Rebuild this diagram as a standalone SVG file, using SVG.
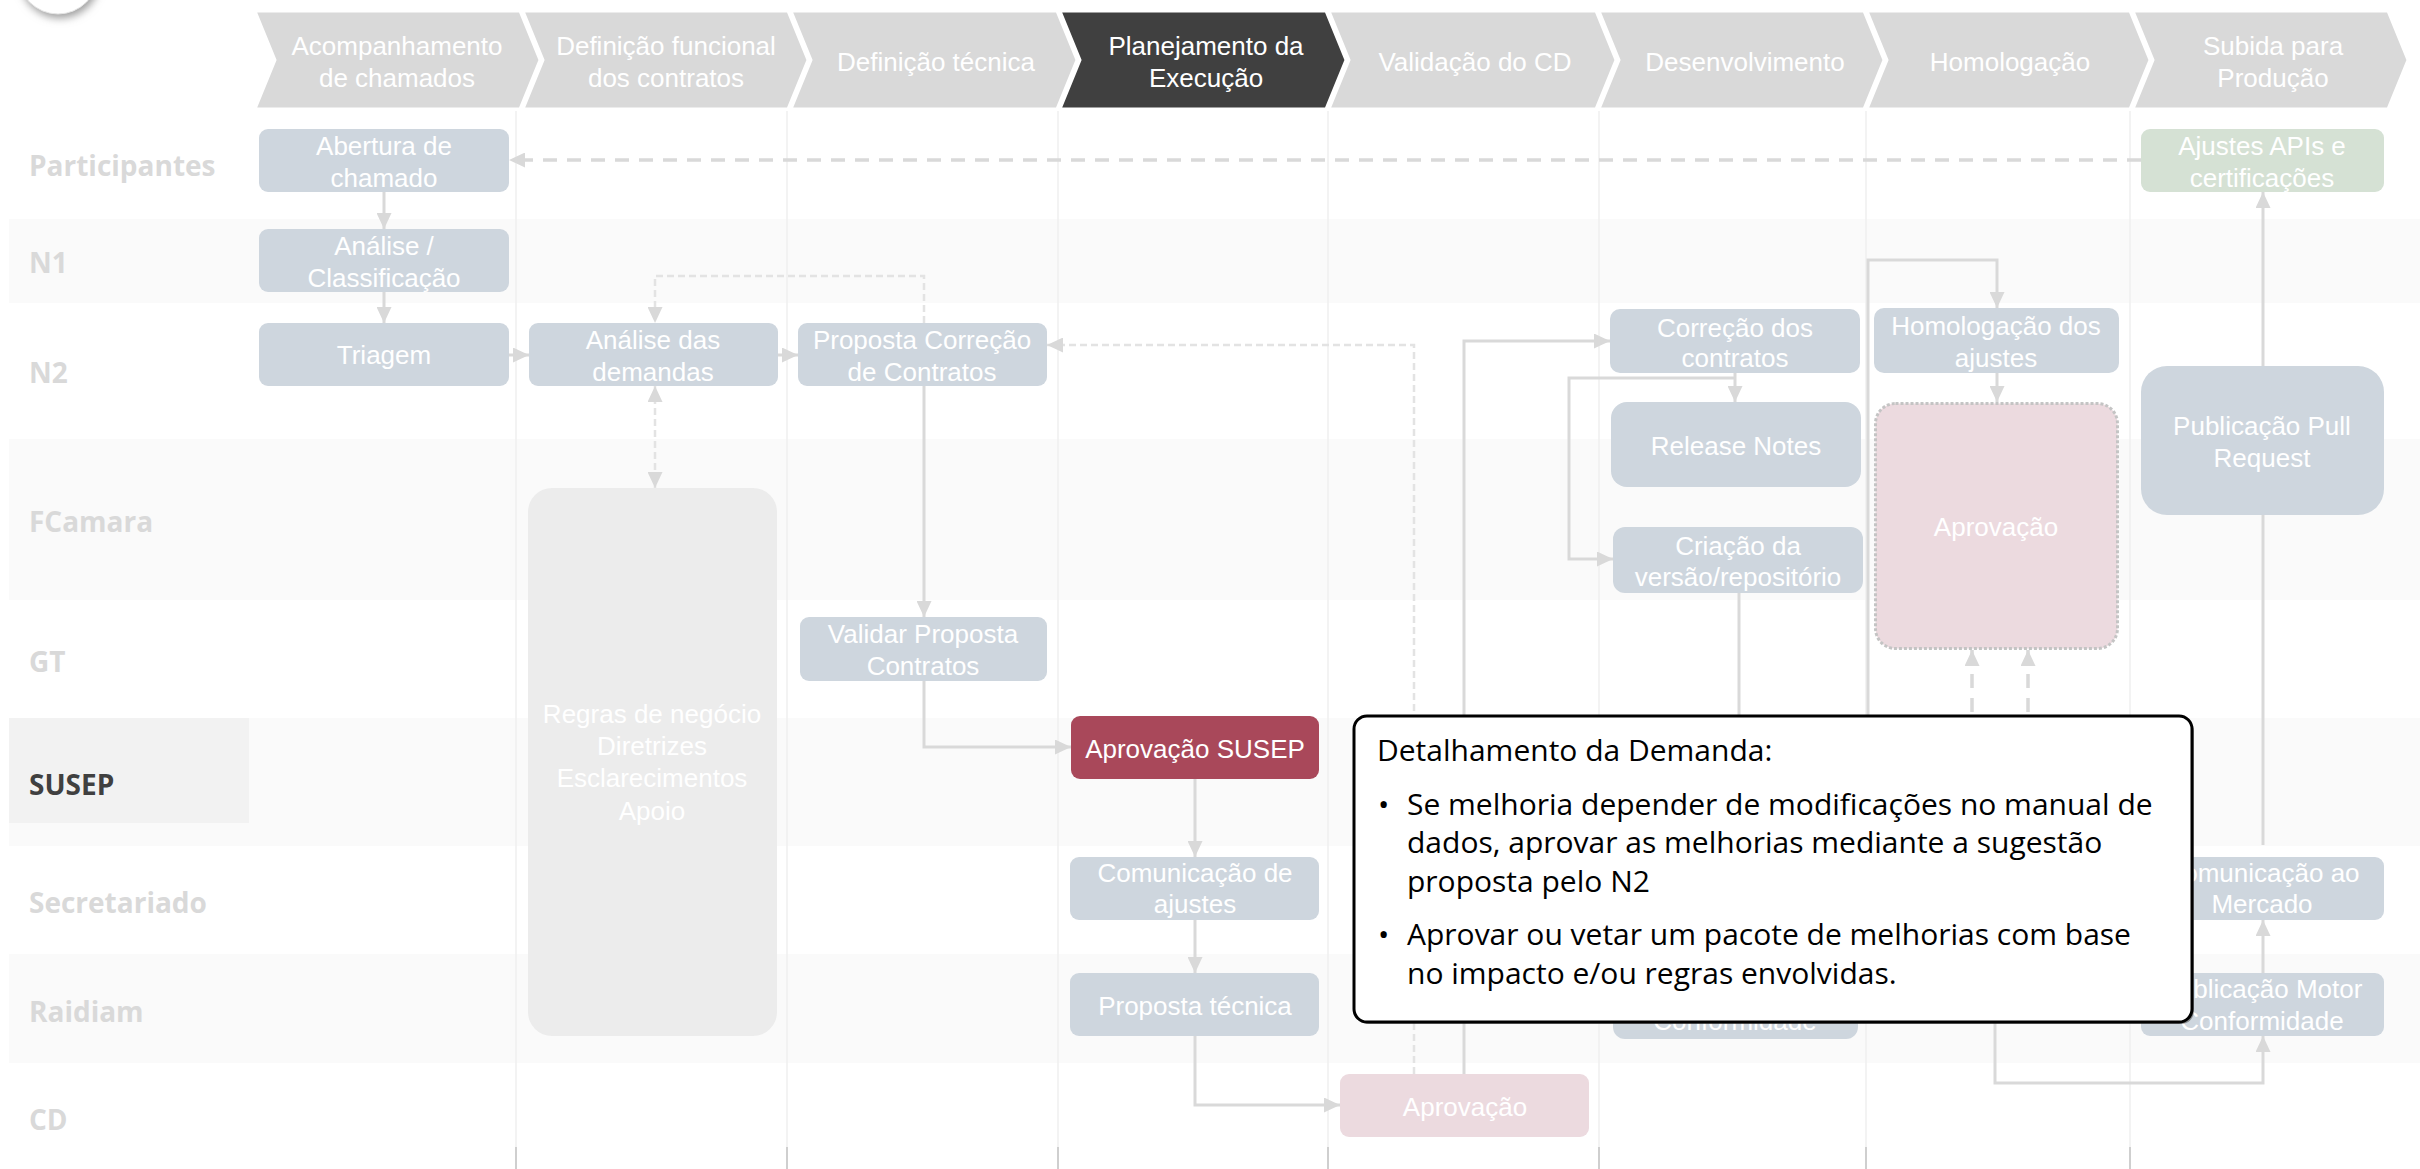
<svg xmlns="http://www.w3.org/2000/svg" width="2420" height="1169" viewBox="0 0 2420 1169">
<style>
.band{fill:#fafafa}
.sep{stroke:#efefef;stroke-width:1.5}
.sepd{stroke:#bfbfbf;stroke-width:1.5}
.chev{fill:#d9d9d9;stroke:#fff;stroke-width:3}
.chevd{fill:#404040;stroke:#fff;stroke-width:3}
.ht{font-family:"Liberation Sans",Arial,sans-serif;font-size:26px;fill:#fff;text-anchor:middle}
.lane{font-family:"Open Sans","Noto Sans",sans-serif;font-weight:700;font-size:28px;fill:#d9d9d9}
.node{fill:#ced6de}
.nt{font-family:"Liberation Sans",Arial,sans-serif;font-size:26px;fill:#fff;text-anchor:middle}
.conn{fill:none;stroke:#d9d9d9;stroke-width:3}
.dash{fill:none;stroke:#d9d9d9;stroke-width:3.5;stroke-dasharray:14 10}
.dthin{fill:none;stroke:#e3e3e3;stroke-width:2.5;stroke-dasharray:7 4}
.ct{font-family:"Open Sans","Noto Sans",sans-serif;font-size:30px;fill:#000}
</style>
<defs>
<marker id="ah" markerUnits="userSpaceOnUse" markerWidth="17" markerHeight="15" refX="16" refY="7.5" orient="auto-start-reverse" viewBox="0 0 17 15">
<path d="M0,0 L16,7.5 L0,15 z" fill="#d9d9d9"/>
</marker>
<filter id="sh" x="-50%" y="-50%" width="200%" height="200%">
<feGaussianBlur stdDeviation="4"/>
</filter>
</defs>
<rect x="0" y="0" width="2420" height="1169" fill="#fff"/>

<g id="top-circle">
<circle cx="60" cy="-22" r="40" fill="#9a9a9a" filter="url(#sh)"/>
<circle cx="58" cy="-26" r="40" fill="#fff" stroke="#e6e6e6" stroke-width="1"/>
</g>

<g id="lanes">
<rect class="band" x="9" y="219" width="2411" height="84"/>
<rect class="band" x="9" y="439" width="2411" height="161"/>
<rect class="band" x="9" y="718" width="2411" height="128"/>
<rect class="band" x="9" y="954" width="2411" height="109"/>
<rect x="9" y="718" width="240" height="105" fill="#f2f2f2"/>
<text class="lane" x="29" y="176">Participantes</text>
<text class="lane" x="29" y="273">N1</text>
<text class="lane" x="29" y="383">N2</text>
<text class="lane" x="29" y="532">FCamara</text>
<text class="lane" x="29" y="672">GT</text>
<text class="lane" x="29" y="795" style="fill:#404040">SUSEP</text>
<text class="lane" x="29" y="913">Secretariado</text>
<text class="lane" x="29" y="1022">Raidiam</text>
<text class="lane" x="29" y="1130">CD</text>
</g>

<g id="separators">
<line class="sep" x1="516" y1="111" x2="516" y2="1147"/>
<line class="sep" x1="787" y1="111" x2="787" y2="1147"/>
<line class="sep" x1="1058" y1="111" x2="1058" y2="1147"/>
<line class="sep" x1="1328" y1="111" x2="1328" y2="1147"/>
<line class="sep" x1="1599" y1="111" x2="1599" y2="1147"/>
<line class="sep" x1="1866" y1="111" x2="1866" y2="1147"/>
<line class="sep" x1="2130" y1="111" x2="2130" y2="1147"/>
<line class="sepd" x1="516" y1="1147" x2="516" y2="1169"/>
<line class="sepd" x1="787" y1="1147" x2="787" y2="1169"/>
<line class="sepd" x1="1058" y1="1147" x2="1058" y2="1169"/>
<line class="sepd" x1="1328" y1="1147" x2="1328" y2="1169"/>
<line class="sepd" x1="1599" y1="1147" x2="1599" y2="1169"/>
<line class="sepd" x1="1866" y1="1147" x2="1866" y2="1169"/>
<line class="sepd" x1="2130" y1="1147" x2="2130" y2="1169"/>
</g>

<g id="header">
<polygon class="chev" points="255,11 520,11 540,60 520,109 255,109 275,60"/>
<polygon class="chev" points="523,11 788,11 808,60 788,109 523,109 543,60"/>
<polygon class="chev" points="791,11 1057,11 1077,60 1057,109 791,109 811,60"/>
<polygon class="chevd" points="1060,11 1326,11 1346,60 1326,109 1060,109 1080,60"/>
<polygon class="chev" points="1329,11 1596,11 1616,60 1596,109 1329,109 1349,60"/>
<polygon class="chev" points="1599,11 1864,11 1884,60 1864,109 1599,109 1619,60"/>
<polygon class="chev" points="1867,11 2130,11 2150,60 2130,109 1867,109 1887,60"/>
<polygon class="chev" points="2133,11 2388,11 2408,60 2388,109 2133,109 2153,60"/>
<text class="ht" x="397" y="55">Acompanhamento</text>
<text class="ht" x="397" y="87">de chamados</text>
<text class="ht" x="666" y="55">Definição funcional</text>
<text class="ht" x="666" y="87">dos contratos</text>
<text class="ht" x="936" y="71">Definição técnica</text>
<text class="ht" x="1206" y="55">Planejamento da</text>
<text class="ht" x="1206" y="87">Execução</text>
<text class="ht" x="1475" y="71">Validação do CD</text>
<text class="ht" x="1745" y="71">Desenvolvimento</text>
<text class="ht" x="2010" y="71">Homologação</text>
<text class="ht" x="2273" y="55">Subida para</text>
<text class="ht" x="2273" y="87">Produção</text>
</g>

<g id="connectors">
<path class="dash" d="M2141,160 H509" marker-end="url(#ah)"/>
<path class="conn" d="M384,192 V229" marker-end="url(#ah)"/>
<path class="conn" d="M384,292 V323" marker-end="url(#ah)"/>
<path class="conn" d="M509,355 H529" marker-end="url(#ah)"/>
<path class="conn" d="M778,355 H798" marker-end="url(#ah)"/>
<path class="dthin" d="M924,323 V276 H655 V323" marker-end="url(#ah)"/>
<path class="dthin" d="M655,386 V488" marker-start="url(#ah)" marker-end="url(#ah)"/>
<path class="conn" d="M924,386 V617" marker-end="url(#ah)"/>
<path class="conn" d="M924,681 V747 H1071" marker-end="url(#ah)"/>
<path class="conn" d="M1195,779 V857" marker-end="url(#ah)"/>
<path class="conn" d="M1195,920 V973" marker-end="url(#ah)"/>
<path class="conn" d="M1195,1036 V1105 H1340" marker-end="url(#ah)"/>
<path class="dthin" d="M1414,1074 V345 H1047" marker-end="url(#ah)"/>
<path class="conn" d="M1464,1074 V341 H1610" marker-end="url(#ah)"/>
<path class="conn" d="M1735,373 V402" marker-end="url(#ah)"/>
<path class="conn" d="M1735,378 H1569 V559 H1613" marker-end="url(#ah)"/>
<path class="conn" d="M1739,593 V973" marker-end="url(#ah)"/>
<path class="conn" d="M1868,900 V260 H1997 V308" marker-end="url(#ah)"/>
<path class="conn" d="M1997,373 V402" marker-end="url(#ah)"/>
<path class="dash" d="M1972,880 V650" marker-end="url(#ah)"/>
<path class="dash" d="M2028,880 V650" marker-end="url(#ah)"/>
<path class="conn" d="M2263,366 V192" marker-end="url(#ah)"/>
<path class="conn" d="M2263,515 V845"/>
<path class="conn" d="M2263,973 V920" marker-end="url(#ah)"/>
<path class="conn" d="M1995,900 V1083 H2263 V1036" marker-end="url(#ah)"/>
</g>

<g id="n-abertura"><rect class="node" x="259" y="129" width="250" height="63" rx="9"/><text class="nt" x="384" y="155">Abertura de</text><text class="nt" x="384" y="187">chamado</text></g>
<g id="n-analise-class"><rect class="node" x="259" y="229" width="250" height="63" rx="9"/><text class="nt" x="384" y="255">Análise /</text><text class="nt" x="384" y="287">Classificação</text></g>
<g id="n-triagem"><rect class="node" x="259" y="323" width="250" height="63" rx="9"/><text class="nt" x="384" y="364">Triagem</text></g>
<g id="n-analise-dem"><rect class="node" x="529" y="323" width="249" height="63" rx="9"/><text class="nt" x="653" y="349">Análise das</text><text class="nt" x="653" y="381">demandas</text></g>
<g id="n-proposta-corr"><rect class="node" x="798" y="323" width="249" height="63" rx="9"/><text class="nt" x="922" y="349">Proposta Correção</text><text class="nt" x="922" y="381">de Contratos</text></g>
<g id="n-regras"><rect x="528" y="488" width="249" height="548" rx="24" fill="#ececec"/><text class="nt" x="652" y="723">Regras de negócio</text><text class="nt" x="652" y="755">Diretrizes</text><text class="nt" x="652" y="787">Esclarecimentos</text><text class="nt" x="652" y="820">Apoio</text></g>
<g id="n-validar"><rect class="node" x="800" y="617" width="247" height="64" rx="9"/><text class="nt" x="923" y="643">Validar Proposta</text><text class="nt" x="923" y="675">Contratos</text></g>
<g id="n-aprov-susep"><rect x="1071" y="716" width="248" height="63" rx="9" fill="#a9485a"/><text class="nt" x="1195" y="758">Aprovação SUSEP</text></g>
<g id="n-comunic-ajustes"><rect class="node" x="1070" y="857" width="249" height="63" rx="9"/><text class="nt" x="1195" y="882">Comunicação de</text><text class="nt" x="1195" y="913">ajustes</text></g>
<g id="n-proposta-tec"><rect class="node" x="1070" y="973" width="249" height="63" rx="9"/><text class="nt" x="1195" y="1015">Proposta técnica</text></g>
<g id="n-aprov-cd"><rect x="1340" y="1074" width="249" height="63" rx="9" fill="#ecdadf"/><text class="nt" x="1465" y="1116">Aprovação</text></g>
<g id="n-correcao"><rect class="node" x="1610" y="309" width="250" height="64" rx="10"/><text class="nt" x="1735" y="337">Correção dos</text><text class="nt" x="1735" y="367">contratos</text></g>
<g id="n-release"><rect class="node" x="1611" y="402" width="250" height="85" rx="16"/><text class="nt" x="1736" y="455">Release Notes</text></g>
<g id="n-criacao"><rect class="node" x="1613" y="527" width="250" height="66" rx="12"/><text class="nt" x="1738" y="555">Criação da</text><text class="nt" x="1738" y="586">versão/repositório</text></g>
<g id="n-conformidade"><rect class="node" x="1613" y="973" width="245" height="66" rx="12"/><text class="nt" x="1735" y="1030">Conformidade</text></g>
<g id="n-homolog"><rect class="node" x="1874" y="308" width="245" height="65" rx="10"/><text class="nt" x="1996" y="335">Homologação dos</text><text class="nt" x="1996" y="367">ajustes</text></g>
<g id="n-aprov-hom"><rect x="1875.5" y="403.5" width="242" height="245" rx="20" fill="#ecdadf" stroke="#c4c4c4" stroke-width="3" stroke-dasharray="3 2"/><text class="nt" x="1996" y="536">Aprovação</text></g>
<g id="n-ajustes-apis"><rect x="2141" y="129" width="243" height="63" rx="9" fill="#d5e1d4"/><text class="nt" x="2262" y="155">Ajustes APIs e</text><text class="nt" x="2262" y="187">certificações</text></g>
<g id="n-pull"><rect class="node" x="2141" y="366" width="243" height="149" rx="26"/><text class="nt" x="2262" y="435">Publicação Pull</text><text class="nt" x="2262" y="467">Request</text></g>
<g id="n-comunic-mercado"><rect class="node" x="2141" y="857" width="243" height="63" rx="9"/><text class="nt" x="2262" y="882">Comunicação ao</text><text class="nt" x="2262" y="913">Mercado</text></g>
<g id="n-pub-motor"><rect class="node" x="2141" y="973" width="243" height="63" rx="9"/><text class="nt" x="2262" y="998">Publicação Motor</text><text class="nt" x="2262" y="1030">Conformidade</text></g>

<g id="callout">
<rect x="1356" y="718" width="838" height="306" rx="13" fill="#555" opacity="0.6"/>
<rect x="1354" y="716" width="838" height="306" rx="13" fill="#fff" stroke="#000" stroke-width="3"/>
<text class="ct" x="1377" y="761">Detalhamento da Demanda:</text>
<text class="ct" x="1378" y="815">•</text>
<text class="ct" x="1407" y="815">Se melhoria depender de modificações no manual de</text>
<text class="ct" x="1407" y="853">dados, aprovar as melhorias mediante a sugestão</text>
<text class="ct" x="1407" y="892">proposta pelo N2</text>
<text class="ct" x="1378" y="945">•</text>
<text class="ct" x="1407" y="945">Aprovar ou vetar um pacote de melhorias com base</text>
<text class="ct" x="1407" y="984">no impacto e/ou regras envolvidas.</text>
</g>
</svg>
